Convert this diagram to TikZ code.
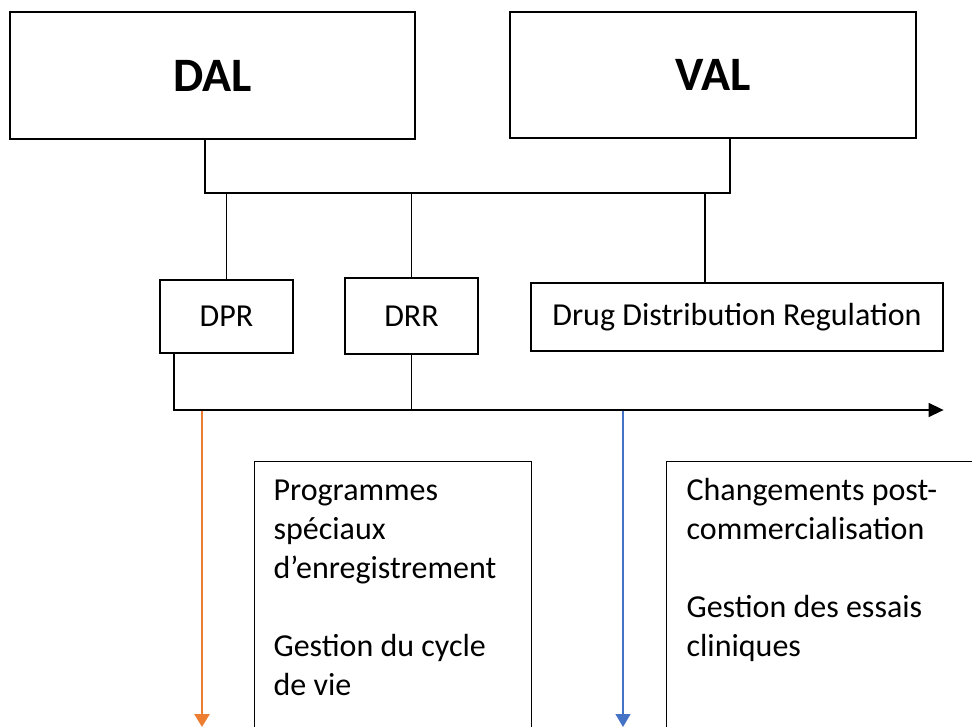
\documentclass[tikz,border=0pt]{standalone}
\usepackage{fontspec}
\setmainfont{Carlito}
\usetikzlibrary{arrows.meta, positioning}

\definecolor{officeorange}{HTML}{ED7D31}
\definecolor{officeblue}{HTML}{4472C4}

\begin{document}
\begin{tikzpicture}[x=1pt, y=-1pt, line width=1.2pt,
  unitbox/.style={draw, font=\fontsize{48}{58}\selectfont\bfseries, inner sep=0pt},
  deptbox/.style={draw, font=\fontsize{32}{39}\selectfont, inner sep=0pt},
  taskbox/.style={draw, anchor=north west, inner sep=0pt},
  tasktext/.style={font=\fontsize{32}{39}\selectfont, align=left, inner sep=0pt, anchor=north west}]
\useasboundingbox (0,0) rectangle (972,726);
\clip (0,0) rectangle (972,726);

% top units
\node[unitbox, minimum width=405pt, minimum height=127pt] (dal) at (212.5,75.5) {DAL};
\node[unitbox, minimum width=406pt, minimum height=126pt] (val) at (713,75) {VAL};

% departments
\node[deptbox, minimum width=133pt, minimum height=73pt] (dpr) at (226.5,316.5) {DPR};
\node[deptbox, minimum width=133pt, minimum height=76pt] (drr) at (411.5,316) {DRR};
\node[deptbox, minimum width=412pt, minimum height=68pt] (ddr) at (737,317) {Drug Distribution Regulation};

% bus between units and departments
\coordinate (bus) at (0,193);
\coordinate (dalfoot) at ([xshift=-7.5pt]dal.south);
\coordinate (valfoot) at ([xshift=17pt]val.south);
\coordinate (ddrtop) at ([xshift=-32pt]ddr.north);
\draw (dalfoot) |- (valfoot |- bus) -- (valfoot);
\draw (dpr.north |- bus) -- (dpr.north);
\draw (drr.north |- bus) -- (drr.north);
\draw (ddrtop |- bus) -- (ddrtop);

% time line
\coordinate (timeline) at (0,410);
\coordinate (dprfoot) at ([xshift=-52.5pt]dpr.south);
\draw[line width=1.4pt, -{Triangle[length=15pt,width=14pt]}] (dprfoot) |- (ddr.south east |- timeline);
\draw (drr.south) -- (drr.south |- timeline);

% task boxes
\node[taskbox, minimum width=277pt, minimum height=300pt] (progbox) at (254,461) {};
\node[taskbox, minimum width=330pt, minimum height=300pt] (postbox) at (666,461) {};
\node[tasktext] (progtext) at ([xshift=19pt,yshift=-18pt]progbox.north west)
  {Programmes\\sp\'eciaux\\d’enregistrement\\[39pt]Gestion du cycle\\de vie};
\node[tasktext] (posttext) at ([xshift=20pt,yshift=-17pt]postbox.north west)
  {Changements post-\\commercialisation\\[39pt]Gestion des essais\\cliniques};

% arrows to the task boxes
\coordinate (orangetop) at (202,411);
\coordinate (orangeend) at (202,727);
\coordinate (bluetop) at (623,411);
\coordinate (blueend) at (623,727);
\draw[officeorange, line width=2.6pt, -{Triangle[length=13pt,width=15pt]}] (orangetop) -- (orangeend);
\draw[officeblue, line width=1.2pt, -{Triangle[length=13pt,width=15pt]}] (bluetop) -- (blueend);
\end{tikzpicture}
\end{document}
